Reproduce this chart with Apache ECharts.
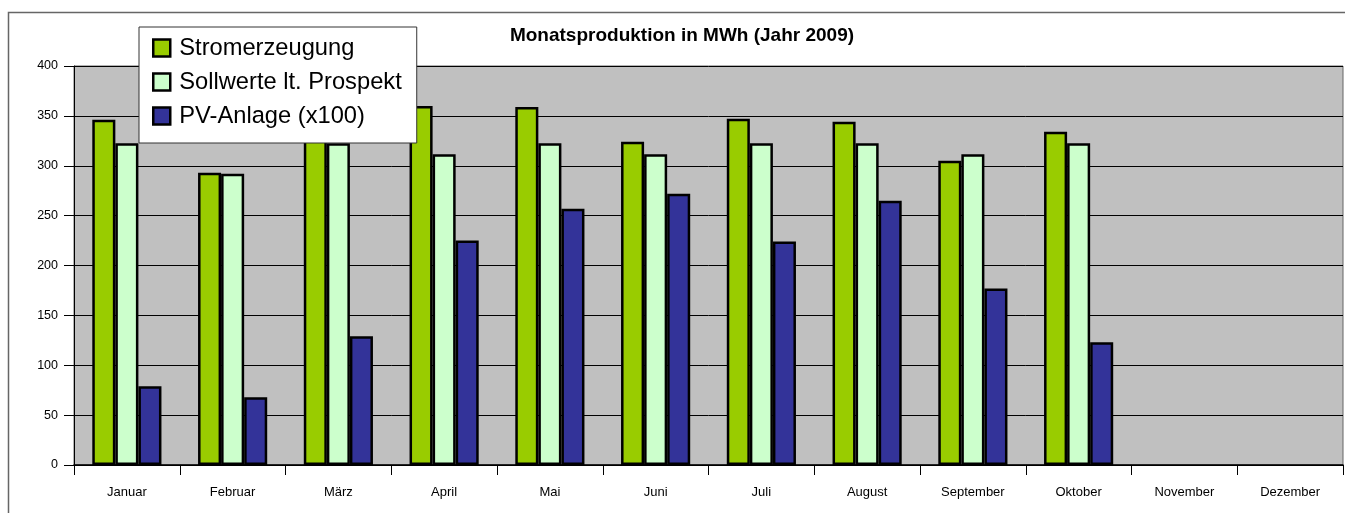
<!DOCTYPE html>
<html>
<head>
<meta charset="utf-8">
<script src="https://cdn.jsdelivr.net/npm/echarts@6/dist/echarts.min.js"></script>
<style>html,body{margin:0;padding:0;background:#fff}#c{width:1345px;height:513px}</style>
</head>
<body>
<div id="c"></div>
<script>
const categories = ['Januar','Februar','März','April','Mai','Juni','Juli','August','September','Oktober','November','Dezember'];
const stromerzeugung = [346, 293, 340, 360, 359, 324, 347, 344, 305, 334, null, null];
const sollwerte = [322.5, 292, 322.5, 311.5, 322.5, 311.5, 322.5, 322.5, 311.5, 322.5, null, null];
const pvAnlage = [79, 68, 129, 225, 257, 272, 224, 265, 177, 123, null, null];
const seriesNames = ['Stromerzeugung', 'Sollwerte lt. Prospekt', 'PV-Anlage (x100)'];
const titleText = 'Monatsproduktion in MWh (Jahr 2009)';

const FONT = "'Liberation Sans', Arial, sans-serif";
const chart = echarts.init(document.getElementById('c'));
const barStyle = (c) => ({ color: c, borderColor: '#000', borderWidth: 2.5 });
chart.setOption({
  animation: false,
  backgroundColor: '#fff',
  textStyle: { fontFamily: FONT, color: '#000' },
  graphic: [
    { type: 'rect', z: -10, silent: true, shape: { x: 8.5, y: 12.5, width: 1400, height: 600 },
      style: { fill: 'none', stroke: '#666', lineWidth: 1.5 } },
    { type: 'text', x: 682, y: 36, silent: true,
      style: { text: titleText, fontFamily: FONT, fontSize: 19, fontWeight: 'bold', fill: '#000',
               textAlign: 'center', textVerticalAlign: 'middle' } }
  ],
  legend: {
    orient: 'vertical', left: 139, top: 27,
    padding: [9, 15, 15, 13],
    itemWidth: 17, itemHeight: 17, itemGap: 10,
    backgroundColor: '#fff', borderColor: '#333', borderWidth: 1,
    icon: 'rect',
    itemStyle: { borderColor: '#000', borderWidth: 2.5 },
    textStyle: { fontFamily: FONT, fontSize: 23.7, lineHeight: 23, color: '#000', padding: [0, 0, 0, 4] },
    data: seriesNames
  },
  grid: { left: 74, top: 66, right: 2, bottom: 48, show: true, backgroundColor: '#C0C0C0', borderColor: '#666', borderWidth: 1 },
  xAxis: {
    type: 'category', data: categories,
    axisLine: { lineStyle: { color: '#000', width: 1.5 } },
    axisTick: { show: true, length: 10, lineStyle: { color: '#000' } },
    axisLabel: { fontFamily: FONT, fontSize: 13, color: '#000', margin: 21, interval: 0 }
  },
  yAxis: {
    type: 'value', min: 0, max: 400, interval: 50,
    axisLine: { show: true, lineStyle: { color: '#000', width: 1 } },
    axisTick: { show: true, length: 10, lineStyle: { color: '#000' } },
    axisLabel: { fontFamily: FONT, fontSize: 12.5, color: '#000', margin: 16 },
    splitLine: { lineStyle: { color: '#000', width: 1 } }
  },
  series: [
    { name: seriesNames[0], type: 'bar', data: stromerzeugung, barWidth: '21.8%', barGap: '0%', itemStyle: barStyle('#99CC00') },
    { name: seriesNames[1], type: 'bar', data: sollwerte, barWidth: '21.8%', barGap: '0%', itemStyle: barStyle('#CCFFCC') },
    { name: seriesNames[2], type: 'bar', data: pvAnlage, barWidth: '21.8%', barGap: '0%', itemStyle: barStyle('#333399') }
  ]
});
</script>
</body>
</html>
